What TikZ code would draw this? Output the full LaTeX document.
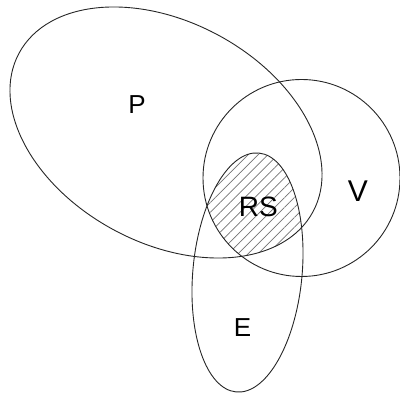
\documentclass[tikz,border=0pt]{standalone}
\usepackage{fontspec}
\setmainfont{Liberation Sans}
\usetikzlibrary{patterns.meta}

\begin{document}
\begin{tikzpicture}[x=1pt, y=1pt,
    setline/.style={line width=0.9pt, black!85},
    setlabel/.style={font=\fontsize{26}{30}\selectfont}]
    \useasboundingbox (0,0) rectangle (400,393);
    \coordinate (P) at (166,260.5);
    \coordinate (V) at (301.5,215);
    \coordinate (E) at (247.5,120.5);
    % hatched common part
    \begin{scope}
        \clip (P) ellipse[x radius=167, y radius=110.5, rotate=-28.4];
        \clip (V) circle[radius=98.5];
        \fill[pattern={Lines[angle=45, distance=7pt, line width=0.7pt]}, pattern color=black!55]
            (E) ellipse[x radius=54.6, y radius=120, rotate=-5.4];
    \end{scope}
    \draw[setline] (P) ellipse[x radius=167, y radius=110.5, rotate=-28.4];
    \draw[setline] (V) circle[radius=98.5];
    \draw[setline] (E) ellipse[x radius=54.6, y radius=120, rotate=-5.4];
    \node[setlabel] (lp) at (137,288) {P};
    \node[setlabel, font=\fontsize{30}{34}\selectfont] (lv) at (358,202) {V};
    \node[setlabel, font=\fontsize{28}{32}\selectfont] (lrs) at (258.3,185.7) {RS};
    \node[setlabel] (le) at (242.5,65.5) {E};
\end{tikzpicture}
\end{document}
